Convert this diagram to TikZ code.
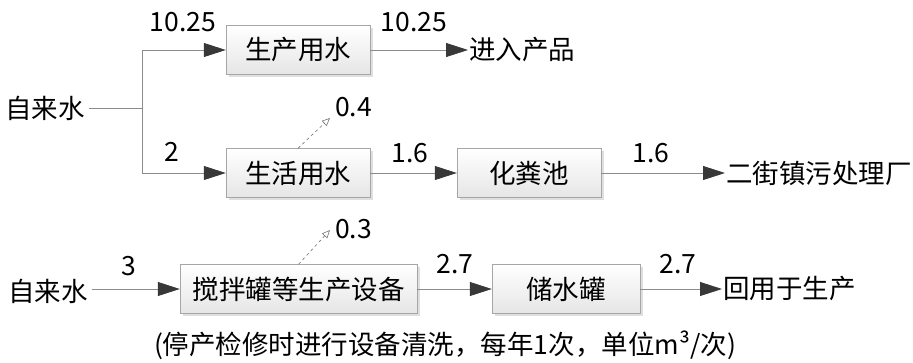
\documentclass[tikz,border=0pt]{standalone}
\usepackage{fontspec}
\setmainfont{Noto Sans CJK SC}
\usetikzlibrary{arrows.meta,shadows}
\begin{document}
\begin{tikzpicture}[x=1pt,y=-1pt,
  font=\fontsize{26.5}{28}\selectfont,
  box/.style={draw=black!35, top color=white, bottom color=black!10, minimum height=49pt, inner sep=0pt,
    drop shadow={shadow xshift=2.5pt, shadow yshift=-2.5pt, fill=black!25, opacity=0.5}},
  lbl/.style={inner sep=1pt},
  flow/.style={draw=black!45, line width=0.8pt, -{Triangle[length=22pt,width=14pt,fill=black!78,color=black!78]}},
  plain/.style={draw=black!45, line width=0.8pt},
  dsh/.style={draw=black!55, dashed, line width=0.6pt, -{Triangle[open,length=8pt,width=7pt]}}
]
\useasboundingbox (0,0) rectangle (913,362);
% top section
\node[lbl] (src1) at (45,108) {自来水};
\coordinate (j1) at (142,108);
\node[box, minimum width=144pt] (scys) at (298,50) {生产用水};
\node[box, minimum width=144pt] (shys) at (298,173) {生活用水};
\node[box, minimum width=144pt] (hfc) at (529,173) {化粪池};
\node[lbl, anchor=west] (cp) at (468,50) {进入产品};
\node[lbl, anchor=west] (ej) at (725,173) {二街镇污处理厂};
\draw[plain] (src1.east) ++(3pt,0) -- (j1);
\draw[flow] (j1) |- (scys.west);
\draw[flow] (j1) |- (shys.west);
\draw[flow] (scys) -- (cp);
\draw[flow] (shys) -- (hfc);
\draw[flow] (hfc) -- (ej);
\coordinate (e1) at (330,118);
\draw[dsh] (shys.north) -- (e1);
\node[lbl, anchor=west] at (334,107) {0.4};
\node at (183,22) {10.25};
\node at (414,22) {10.25};
\node at (172,152) {2};
\node at (410,153) {1.6};
\node at (651,153) {1.6};
% bottom section
\node[lbl] (src2) at (48,291) {自来水};
\node[box, minimum width=237pt] (jb) at (298.5,289) {搅拌罐等生产设备};
\node[box, minimum width=148pt] (csg) at (566,289) {储水罐};
\node[lbl, anchor=west] (hy) at (722,289) {回用于生产};
\draw[flow] (src2.east |- jb.west) ++(3pt,0) -- (jb.west);
\draw[flow] (jb) -- (csg);
\draw[flow] (csg) -- (hy);
\coordinate (e2) at (330,230);
\draw[dsh] (jb.north) -- (e2);
\node[lbl, anchor=west] at (334,229) {0.3};
\node at (129,266) {3};
\node at (455,264) {2.7};
\node at (678,264) {2.7};
\node (cap) at (445,345) {(停产检修时进行设备清洗，每年1次，单位m³/次)};
\end{tikzpicture}
\end{document}
